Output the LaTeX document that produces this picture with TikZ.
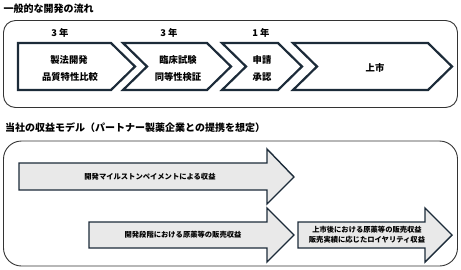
\documentclass[tikz,border=0pt]{standalone}
\usepackage{fontspec}
\setmainfont{Noto Sans CJK JP}
\newfontfamily\jp{Noto Sans CJK JP}
\definecolor{navy}{HTML}{1C2B39}
\definecolor{framec}{HTML}{333333}
\definecolor{arrowfill}{HTML}{E9E9E9}
\tikzset{
  frame/.style={draw=framec, line width=0.9pt},
  chev/.style={draw=navy, line width=2.2pt, fill=white, line join=miter},
  bigarrow/.style={draw=navy, line width=1.4pt, fill=arrowfill, line join=miter},
  title/.style={font=\jp\bfseries\fontsize{10}{12}\selectfont, anchor=west, inner sep=0pt},
  ctext/.style={font=\jp\bfseries\fontsize{9.3}{11}\selectfont, inner sep=0pt},
  atext/.style={font=\jp\bfseries\fontsize{7.3}{10}\selectfont, inner sep=0pt, align=center},
}
\begin{document}
\begin{tikzpicture}[x=1pt,y=-1pt]
\useasboundingbox (0,0) rectangle (461,269);
% titles
\node[title] (t1) at (3.5,9) {一般的な開発の流れ};
\node[title] (t2) at (5,128) {当社の収益モデル（パートナー製薬企業との提携を想定）};
% frames
\draw[frame, rounded corners=12pt] (3.5,20.5) rectangle (457.5,107.5);
\draw[frame, rounded corners=18pt] (3.5,141) rectangle (457.5,266);
% chevrons
\draw[chev] (18,43) -- (111,43) -- (135,66.5) -- (111,90) -- (18,90) -- cycle;
\draw[chev] (123,43) -- (207,43) -- (231,66.5) -- (207,90) -- (123,90) -- (147,66.5) -- cycle;
\draw[chev] (222,43) -- (278,43) -- (302,66.5) -- (278,90) -- (222,90) -- (246,66.5) -- cycle;
\draw[chev] (293,43) -- (428,43) -- (452,66.5) -- (428,90) -- (293,90) -- (317,66.5) -- cycle;
% year labels
\node[ctext] (y1) at (60,33) {3 年};
\node[ctext] (y2) at (169,33) {3 年};
\node[ctext] (y3) at (261,33) {1 年};
% chevron texts
\node[ctext] (c1a) at (69,60) {製法開発};
\node[ctext] (c1b) at (70,77) {品質特性比較};
\node[ctext] (c2a) at (178,60) {臨床試験};
\node[ctext] (c2b) at (178,77) {同等性検証};
\node[ctext] (c3a) at (262,60) {申請};
\node[ctext] (c3b) at (262,77) {承認};
\node[ctext] (c4) at (375,68) {上市};
% big arrows
\draw[bigarrow] (19,163) -- (267,163) -- (267,149) -- (294,177) -- (267,204) -- (267,190) -- (19,190) -- cycle;
\draw[bigarrow] (89,222) -- (267,222) -- (267,208) -- (294,235) -- (267,262) -- (267,248) -- (89,248) -- cycle;
\draw[bigarrow] (298,222) -- (425,222) -- (425,208) -- (452,235) -- (425,262) -- (425,248) -- (298,248) -- cycle;
\node[atext] (a1) at (150,177) {開発マイルストンペイメントによる収益};
\node[atext] (a2) at (183,235) {開発段階における原薬等の販売収益};
\node[atext] (a3a) at (367,229.5) {上市後における原薬等の販売収益};
\node[atext] (a3b) at (367,239.5) {販売実績に応じたロイヤリティ収益};
\end{tikzpicture}
\end{document}
